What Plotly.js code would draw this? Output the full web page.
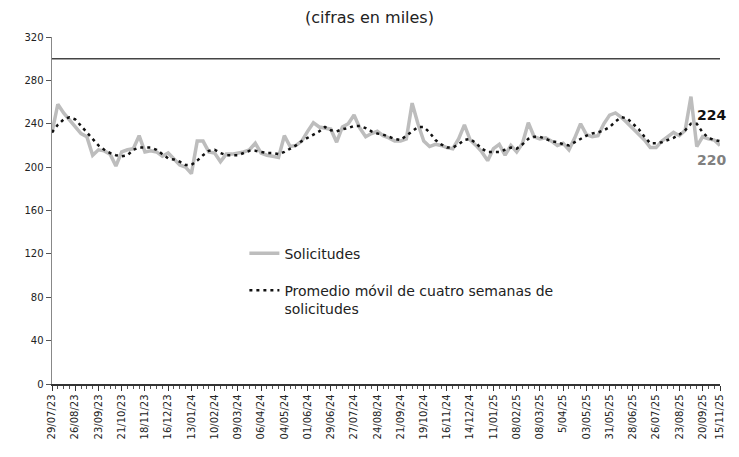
<!DOCTYPE html>
<html><head><meta charset="utf-8">
<script src="https://cdn.plot.ly/plotly-3.0.1.min.js"></script>
<style>html,body{margin:0;padding:0;background:#fff}#chart{width:739px;height:457px}</style>
</head><body><div id="chart"></div>
<script>
const tickLabels = ["29/07/23","26/08/23","23/09/23","21/10/23","18/11/23","16/12/23","13/01/24","10/02/24","09/03/24","06/04/24","04/05/24","01/06/24","29/06/24","27/07/24","24/08/24","21/09/24","19/10/24","16/11/24","14/12/24","11/01/25","08/02/25","08/03/25","5/04/25","03/05/25","31/05/25","28/06/25","26/07/25","23/08/25","20/09/25","15/11/25"];

const solicitudes = [232,258,250,244,237,231,228,211,216,215,
212,201,214,216,217,229,214,215,214,210,
213,208,202,200,194,224,224,214,213,205,
212,212,213,214,216,222,213,211,210,209,
229,219,220,224,233,241,237,236,235,223,
237,240,248,236,228,231,233,229,227,224,
224,226,259,240,224,219,221,220,218,217,
226,239,225,220,214,206,217,221,211,220,
214,222,241,228,226,227,224,220,222,216,
227,240,230,228,229,240,248,250,246,241,
236,231,225,218,218,224,228,232,229,234,
265,219,228,226,225,220];

const promedio = [232,239,244,246,244,238,232,225,220,216,
213,211,210,211,216,218,218,218,216,212,
208,207,205,202,202,206,211,215,216,213,
211,211,211,213,215,215,214,213,213,212,
214,217,220,224,227,230,233,237,234,233,
235,236,238,238,236,233,231,230,228,226,
225,229,233,237,237,232,225,221,218,218,
221,225,226,222,217,214,214,214,216,218,
217,221,226,228,228,226,224,223,221,220,
223,226,229,231,232,234,237,242,246,245,
240,235,228,222,222,223,225,227,230,234,
240,240,232,227,225,224];

const seriesNames = ["Solicitudes", "Promedio móvil de cuatro semanas de<br>solicitudes"];
const lastLabels = ["224", "220"];

const n = solicitudes.length;
const idx = solicitudes.map((_, i) => i);
const tickvals = tickLabels.map((_, k) => k < tickLabels.length - 1 ? 4 * k : n - 1);

const font = "DejaVu Sans, Arial, sans-serif";

const traces = [
  {x: idx, y: solicitudes, type: 'scatter', mode: 'lines', name: seriesNames[0], legendgroup: 'a',
   line: {color: '#bdbdbd', width: 3.5}, hoverinfo: 'skip'},
  {x: idx, y: promedio, type: 'scatter', mode: 'lines', name: seriesNames[1], legendgroup: 'b',
   line: {color: '#111', width: 2.5, dash: '3px,4px'}, hoverinfo: 'skip'}
];

const layout = {
  width: 739, height: 457,
  margin: {l: 52, r: 19, t: 37, b: 73},
  paper_bgcolor: '#fff', plot_bgcolor: '#fff',
  font: {family: font, color: '#222', size: 10},
  title: {text: '(cifras en miles)', x: 0.5, xref: 'container', y: 0.962, yanchor: 'middle',
          font: {family: font, size: 16, color: '#222'}},
  showlegend: true,
  legend: {x: 0.288, xanchor: 'left', y: 0.422, yanchor: 'top', bgcolor: 'rgba(0,0,0,0)',
           font: {family: font, size: 14, color: '#222'}, tracegroupgap: 16, valign: 'top',
           traceorder: 'grouped'},
  xaxis: {range: [0, n - 1], tickmode: 'array', tickvals: tickvals, ticktext: tickLabels,
          tickangle: -90, tickfont: {family: font, size: 10, color: '#222'},
          showline: true, linecolor: '#333', linewidth: 1.5, ticks: 'outside', ticklen: 5,
          tickcolor: '#333', showgrid: false, zeroline: false, fixedrange: true,
          minor: {tickmode: 'linear', tick0: 0, dtick: 1, ticks: 'outside', ticklen: 3, tickcolor: '#555'}},
  yaxis: {range: [0, 320], dtick: 40, tick0: 0, showline: true, linecolor: '#888', linewidth: 1.5,
          ticks: 'outside', ticklen: 5, tickcolor: '#555', showgrid: false, zeroline: false,
          tickfont: {family: font, size: 10, color: '#222'}, fixedrange: true},
  shapes: [{type: 'line', xref: 'paper', x0: 0, x1: 1, yref: 'y', y0: 300, y1: 300,
            line: {color: '#444', width: 1.5}}],
  annotations: [
    {x: n - 2.5, y: 248, xref: 'x', yref: 'y', text: '<b>' + lastLabels[0] + '</b>', showarrow: false,
     font: {family: font, size: 14, color: '#111'}},
    {x: n - 2.5, y: 206.5, xref: 'x', yref: 'y', text: '<b>' + lastLabels[1] + '</b>', showarrow: false,
     font: {family: font, size: 14, color: '#808080'}}
  ]
};

Plotly.newPlot('chart', traces, layout, {staticPlot: true, displayModeBar: false});
</script>
</body></html>
